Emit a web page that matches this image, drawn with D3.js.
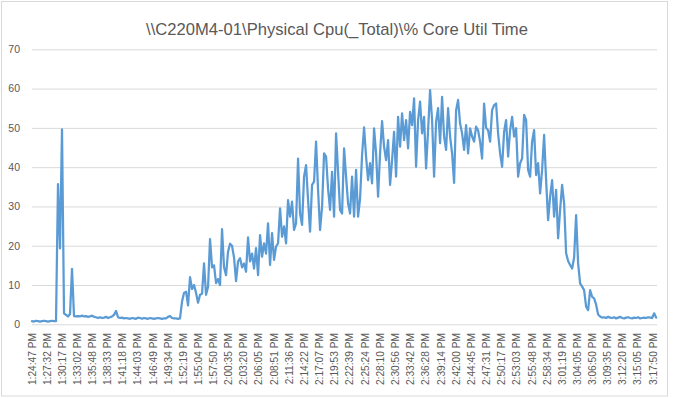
<!DOCTYPE html>
<html>
<head>
<meta charset="utf-8">
<script src="https://cdn.jsdelivr.net/npm/d3@7"></script>
<style>
  body { margin: 0; background: #fff; }
  svg text { font-family: "Liberation Sans", Arial, sans-serif; fill: #595959; }
</style>
</head>
<body>
<div id="chart"></div>
<script>
const chartTitle = "\\\\C220M4-01\\Physical Cpu(_Total)\\% Core Util Time";

// x axis category labels (every ~165 s)
const timeLabels = [
  "1:24:47 PM","1:27:32 PM","1:30:17 PM","1:33:02 PM","1:35:48 PM","1:38:33 PM","1:41:18 PM",
  "1:44:03 PM","1:46:49 PM","1:49:34 PM","1:52:19 PM","1:55:04 PM","1:57:50 PM","2:00:35 PM",
  "2:03:20 PM","2:06:05 PM","2:08:51 PM","2:11:36 PM","2:14:22 PM","2:17:07 PM","2:19:53 PM",
  "2:22:39 PM","2:25:24 PM","2:28:10 PM","2:30:56 PM","2:33:42 PM","2:36:28 PM","2:39:14 PM",
  "2:42:00 PM","2:44:45 PM","2:47:31 PM","2:50:17 PM","2:53:03 PM","2:55:48 PM","2:58:34 PM",
  "3:01:19 PM","3:04:05 PM","3:06:50 PM","3:09:35 PM","3:12:20 PM","3:15:05 PM","3:17:50 PM"
];

const yTicks = [0, 10, 20, 30, 40, 50, 60, 70];

// seconds between two samples of cpuValues
const sampleSeconds = 21.85;

// % core util
const cpuValues = [
  0.8, 0.7, 0.9, 0.8, 0.7, 0.8, 0.9, 0.8, 0.7, 0.8, 0.9, 0.8, 0.8,
  35.7, 19.3, 49.6, 2.8, 2.4, 2.0, 2.6, 14.1, 2.1,
  2.0, 2.1, 2.0, 2.2, 2.0, 2.1, 1.9, 2.0, 2.2, 1.9, 1.8, 1.6, 1.8, 1.6, 1.7, 1.9, 1.6, 1.8, 2.0,
  2.4, 3.4, 1.8,
  1.6, 1.7, 1.5, 1.6, 1.5, 1.4, 1.6, 1.5, 1.4, 1.7, 1.6, 1.4, 1.6, 1.5, 1.4, 1.6,
  1.5, 1.4, 1.5, 1.6, 1.5, 1.4, 1.5, 1.5, 1.9, 2.1, 1.6, 1.5, 1.5, 1.4, 1.5,
  5.8, 8.0, 8.3, 4.8, 12.0, 9.0, 10.0, 8.0, 5.5, 7.5,
  7.8, 15.5, 7.5, 9.5, 21.7, 14.5, 15.0, 10.5, 11.5, 10.0,
  24.2, 14.5, 12.5, 18.5, 20.5, 20.0, 17.0, 11.0, 16.0, 16.8,
  14.5, 15.5, 13.4, 22.1, 16.0, 18.0, 14.2, 19.4, 12.5, 22.7,
  17.2, 20.6, 18.0, 25.7, 15.1, 23.2, 16.4, 19.8, 20.6, 29.5,
  22.3, 24.9, 20.6, 31.6, 27.4, 31.2, 24.0, 25.7, 42.2, 28.2,
  25.3, 37.6, 40.5, 31.6, 23.6, 35.5, 36.3, 46.5, 34.2, 24.0,
  29.9, 43.5, 42.7, 34.5, 29.1, 38.8, 27.4, 48.6, 38.8, 29.1,
  28.2, 44.8, 37.6, 30.8, 28.2, 37.6, 27.4, 39.3, 27.4, 32.0,
  43.1, 50.1, 42.7, 36.7, 41.0, 35.9, 49.9, 43.5, 32.5, 43.5,
  51.7, 45.2, 41.8, 46.9, 35.5, 41.8, 49.0, 37.6, 52.8, 45.2,
  53.7, 46.9, 52.0, 44.8, 54.1, 50.7, 57.5, 40.1, 52.0, 56.7,
  48.6, 52.8, 39.7, 49.4, 59.6, 52.0, 37.6, 51.6, 55.0, 46.1,
  57.9, 47.8, 44.4, 55.0, 47.8, 43.5, 36.0, 54.5, 57.1, 51.1,
  48.6, 44.4, 50.7, 43.5, 49.9, 47.8, 46.5, 50.3, 49.4, 46.5,
  42.2, 56.2, 50.0, 49.4, 46.5, 54.5, 55.8, 56.2, 48.6, 43.5,
  40.1, 49.0, 52.0, 42.7, 49.4, 52.8, 47.8, 49.9, 37.6, 41.0,
  42.2, 53.3, 52.0, 39.3, 37.6, 46.5, 49.4, 38.0, 41.0, 33.3,
  39.3, 48.2, 36.7, 26.5, 32.5, 36.7, 27.4, 34.2, 21.9, 29.1,
  35.5, 30.8, 18.1, 16.1, 15.1, 14.2, 17.0, 27.8, 15.5, 10.4,
  9.6, 8.7, 4.5, 3.6, 8.7, 7.0, 6.6, 5.0, 2.5, 2.0,
  1.7, 1.8, 1.6, 1.9, 1.7, 1.6, 1.8, 1.5, 1.7, 1.9, 1.6, 1.5, 1.7, 1.8,
  1.6, 1.5, 1.7, 1.6, 1.8, 1.5, 1.6, 1.7, 1.6, 1.8, 1.7, 1.6, 2.8, 1.7
];

const width = 673, height = 398;
const plot = { left: 32, right: 657, top: 49.3, bottom: 324.3 };

const svg = d3.select("#chart").append("svg")
  .attr("width", width)
  .attr("height", height);

// chart area border
svg.append("rect")
  .attr("x", 1.5).attr("y", 1.5)
  .attr("width", 666).attr("height", 394.5)
  .attr("fill", "#fff")
  .attr("stroke", "#d9d9d9");

svg.append("text")
  .attr("x", 337).attr("y", 35)
  .attr("text-anchor", "middle")
  .style("font-size", "16.6px")
  .text(chartTitle);

const parseTime = d3.timeParse("%I:%M:%S %p");
const t0 = parseTime(timeLabels[0]);
const labelSecs = timeLabels.map(l => (parseTime(l) - t0) / 1000);

const x = d3.scaleLinear()
  .domain([0, labelSecs[labelSecs.length - 1]])
  .range([32, 653]);

const y = d3.scaleLinear()
  .domain([0, 70])
  .range([plot.bottom, plot.top]);

// y gridlines + labels
const yAxis = svg.append("g")
  .attr("transform", `translate(${plot.left},0)`)
  .call(d3.axisLeft(y)
    .tickValues(yTicks)
    .tickSize(-(plot.right - plot.left))
    .tickPadding(12)
    .tickFormat(d3.format("d")));
yAxis.select(".domain").remove();
yAxis.selectAll(".tick line").attr("stroke", "#d9d9d9");
yAxis.selectAll(".tick text")
  .style("font-size", "10.5px")
  .style("font-family", '"Liberation Sans", Arial, sans-serif')
  .attr("fill", "#595959");

// x labels, rotated
svg.append("g").selectAll("text")
  .data(timeLabels)
  .enter().append("text")
  .attr("transform", (d, i) => `translate(${x(labelSecs[i])},333) rotate(-90)`)
  .attr("text-anchor", "end")
  .attr("dy", "0.35em")
  .style("font-size", "10.2px")
  .text(d => d);

const line = d3.line()
  .x((d, i) => x(i * sampleSeconds))
  .y(d => y(d));

svg.append("path")
  .datum(cpuValues)
  .attr("d", line)
  .attr("fill", "none")
  .attr("stroke", "#5b9bd5")
  .attr("stroke-width", 2.25)
  .attr("stroke-linejoin", "round")
  .attr("stroke-linecap", "round");
</script>
</body>
</html>
